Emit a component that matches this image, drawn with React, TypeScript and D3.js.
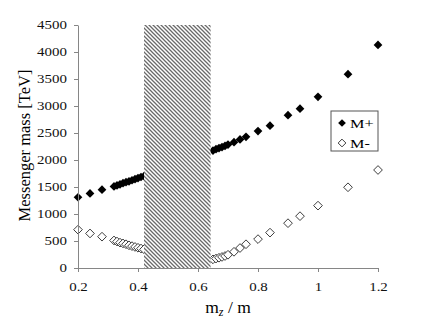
import React, { useRef, useEffect } from 'react';
import * as d3 from 'd3';

// m_Z / m values and messenger masses [TeV]
const xLeft = [0.2, 0.24, 0.28, 0.32, 0.33, 0.34, 0.35, 0.36, 0.37, 0.38, 0.39, 0.4, 0.41, 0.42];
const xRight = [0.65, 0.66, 0.67, 0.68, 0.69, 0.7, 0.72, 0.74, 0.76, 0.8, 0.84, 0.9, 0.94, 1.0, 1.1, 1.2];

const mPlusLeft = [1310, 1380, 1450, 1510, 1530, 1550, 1570, 1590, 1605, 1625, 1645, 1665, 1685, 1700];
const mPlusRight = [2175, 2200, 2220, 2240, 2260, 2285, 2330, 2380, 2430, 2535, 2635, 2830, 2950, 3170, 3590, 4130];

const mMinusLeft = [710, 640, 580, 510, 490, 470, 455, 440, 420, 405, 390, 375, 360, 345];
const mMinusRight = [160, 175, 190, 205, 222, 245, 300, 370, 440, 535, 655, 830, 960, 1155, 1495, 1815];

const excluded = [0.42, 0.642]; // shaded band in m_Z / m
const yTicks = [0, 500, 1000, 1500, 2000, 2500, 3000, 3500, 4000, 4500];
const xTicks = [0.2, 0.4, 0.6, 0.8, 1, 1.2];
const legendLabels = ['M+', 'M-'];

const MessengerChart = () => {
  const chartRef = useRef<SVGSVGElement>(null);

  useEffect(() => {
    if (!chartRef.current) return;
    const svg = d3.select(chartRef.current);
    svg.selectAll('*').remove();

    const marginLeft = 78;
    const marginRight = 58;
    const marginTop = 25;
    const marginBottom = 59;
    const width = 436;
    const height = 327;
    const font = "'Liberation Serif', 'Times New Roman', serif";
    const stretch = 1.3; // tick labels in the original are drawn wide

    const x = d3.scaleLinear().domain([0.2, 1.2]).range([marginLeft, width - marginRight]);
    const y = d3.scaleLinear().domain([0, 4500]).range([height - marginBottom, marginTop]);

    // hatch pattern for the excluded region
    const defs = svg.append('defs');
    const pat = defs.append('pattern')
      .attr('id', 'hatch')
      .attr('patternUnits', 'userSpaceOnUse')
      .attr('width', 4)
      .attr('height', 4);
    pat.append('rect').attr('width', 4).attr('height', 4).attr('fill', '#fff');
    pat.append('path')
      .attr('d', 'M-1,-1 L5,5 M-1,3 L1,5 M3,-1 L5,1')
      .attr('stroke', '#6a6a6a')
      .attr('stroke-width', 1.3);

    const diamond = d3.symbol(d3.symbolSquare, 38);

    const plus = [...xLeft.map((v, i) => [v, mPlusLeft[i]]), ...xRight.map((v, i) => [v, mPlusRight[i]])];
    const minus = [...xLeft.map((v, i) => [v, mMinusLeft[i]]), ...xRight.map((v, i) => [v, mMinusRight[i]])];

    svg.append('g')
      .selectAll('path')
      .data(minus)
      .join('path')
      .attr('d', diamond)
      .attr('transform', d => `translate(${x(d[0])},${y(d[1])}) rotate(45)`)
      .attr('fill', '#fff')
      .attr('stroke', '#333')
      .attr('stroke-width', 0.9);

    svg.append('g')
      .selectAll('path')
      .data(plus)
      .join('path')
      .attr('d', diamond)
      .attr('transform', d => `translate(${x(d[0])},${y(d[1])}) rotate(45)`)
      .attr('fill', '#000');

    svg.append('rect')
      .attr('x', x(excluded[0]))
      .attr('y', y(4500))
      .attr('width', x(excluded[1]) - x(excluded[0]))
      .attr('height', y(0) - y(4500))
      .attr('fill', 'url(#hatch)');

    // y axis
    svg.append('g')
      .attr('transform', `translate(${marginLeft},0)`)
      .call(d3.axisLeft(y).tickValues(yTicks).tickFormat(d3.format('d')).tickSize(4).tickPadding(6).tickSizeOuter(0))
      .call(g => g.select('.domain').attr('stroke', '#868686'))
      .call(g => g.selectAll('.tick line').attr('stroke', '#868686'))
      .call(g => g.selectAll('.tick text')
        .attr('x', -11 / stretch)
        .attr('transform', `scale(${stretch},1)`)
        .attr('font-family', font)
        .attr('font-size', 11.5)
        .attr('fill', '#111'));

    // x axis
    svg.append('g')
      .attr('transform', `translate(0,${height - marginBottom})`)
      .call(d3.axisBottom(x).tickValues(xTicks).tickFormat(d3.format('')).tickSize(4).tickPadding(11).tickSizeOuter(0))
      .call(g => g.select('.domain').attr('stroke', '#868686'))
      .call(g => g.selectAll('.tick line').attr('stroke', '#868686'))
      .call(g => g.selectAll('.tick text')
        .attr('transform', `scale(${stretch},1)`)
        .attr('font-family', font)
        .attr('font-size', 11.5)
        .attr('fill', '#111'));

    // axis titles
    svg.append('text')
      .attr('transform', `translate(30,${(marginTop + height - marginBottom) / 2 - 1}) rotate(-90)`)
      .attr('text-anchor', 'middle')
      .attr('font-family', font)
      .attr('font-size', 16.5)
      .text('Messenger mass [TeV]');

    const xt = svg.append('text')
      .attr('x', (marginLeft + width - marginRight) / 2)
      .attr('y', 313)
      .attr('text-anchor', 'middle')
      .attr('font-family', font)
      .attr('font-size', 17.5);
    xt.append('tspan').text('m');
    xt.append('tspan').attr('font-size', 12).attr('font-style', 'italic').attr('dy', 3).text('z');
    xt.append('tspan').attr('dy', -3).text(' / m');

    // legend
    const lg = svg.append('g').attr('transform', 'translate(331,111)');
    lg.append('rect')
      .attr('width', 47)
      .attr('height', 40)
      .attr('fill', '#fff')
      .attr('stroke', '#555');
    legendLabels.forEach((label, i) => {
      lg.append('path')
        .attr('d', d3.symbol(d3.symbolSquare, 30)())
        .attr('transform', `translate(11,${12 + i * 20}) rotate(45)`)
        .attr('fill', i === 0 ? '#000' : '#fff')
        .attr('stroke', i === 0 ? 'none' : '#333')
        .attr('stroke-width', 0.9);
      lg.append('text')
        .attr('x', 19 / 1.25)
        .attr('y', 17 + i * 20)
        .attr('transform', 'scale(1.25,1)')
        .attr('font-family', font)
        .attr('font-size', 13)
        .text(label);
    });
  }, []);

  return (
    <svg
      ref={chartRef}
      width={436}
      height={327}
      style={{ position: 'absolute', left: 0, top: 0, background: '#fff' }}
    />
  );
};

export default function App() {
  return <MessengerChart />;
}
